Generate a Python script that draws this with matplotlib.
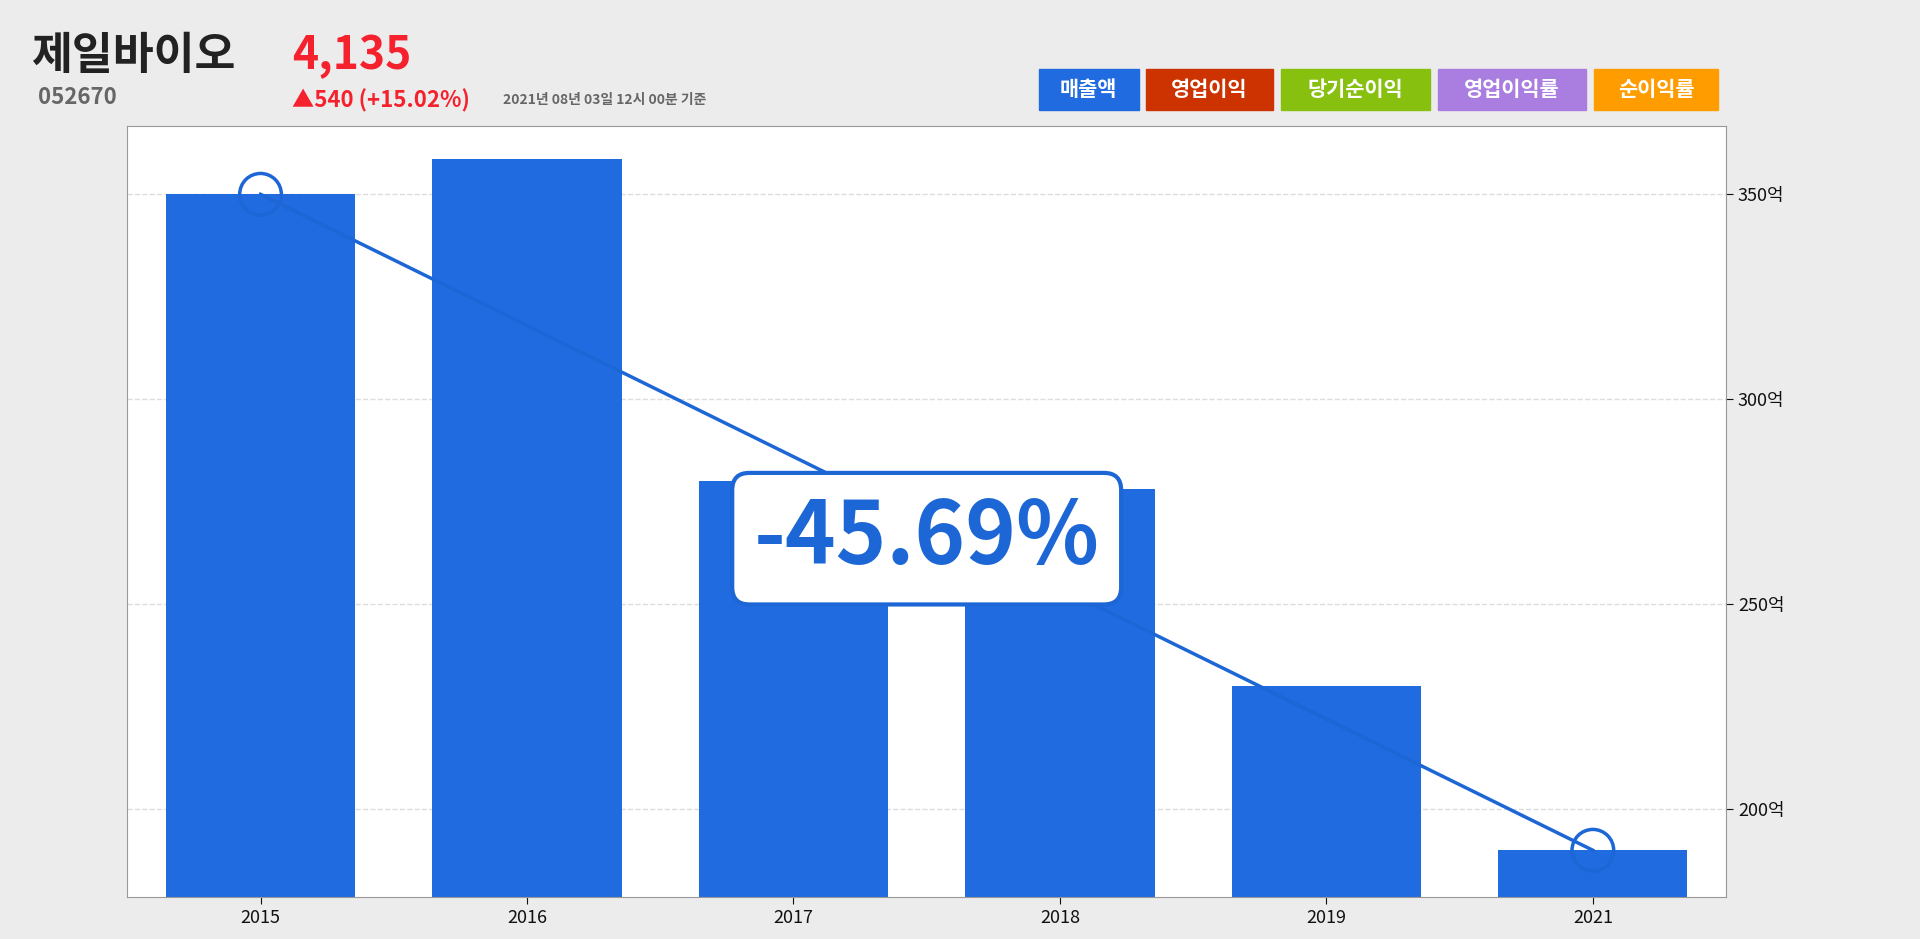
import matplotlib
matplotlib.use("Agg")
import matplotlib.pyplot as plt
from matplotlib.patches import FancyBboxPatch

plt.rcParams['font.family'] = ['Noto Sans CJK KR', 'DejaVu Sans']

years = ['2015', '2016', '2017', '2018', '2019', '2021']
sales = [350, 358.5, 280, 278, 230, 190]
yticks = [200, 250, 300, 350]
legend_items = ['매출액', '영업이익', '당기순이익', '영업이익률', '순이익률']
legend_colors = ['#206bdf', '#cc3300', '#88c010', '#aa7ee0', '#ff9d00']
change_label = '-45.69%'

fig = plt.figure(figsize=(19.2, 9.39), dpi=100, facecolor='#ececec')
ax = fig.add_axes([0.0663, 0.0443, 0.8327, 0.8217])
ax.set_facecolor('white')
x = list(range(len(years)))
ax.bar(x, sales, width=0.71, color='#206bdf', zorder=2)
ax.plot([x[0], x[-1]], [sales[0], sales[-1]], color='#1c66d6', lw=2.5, zorder=3)
ax.scatter([x[0], x[-1]], [sales[0], sales[-1]], s=900, facecolors='none',
           edgecolors='#1c66d6', linewidths=2.5, zorder=4)
ax.set_xlim(-0.5, 5.5)
ax.set_ylim(178.5, 366.7)
ax.set_xticks(x)
ax.set_xticklabels(years, fontsize=13)
ax.yaxis.tick_right()
ax.set_yticks(yticks)
ax.set_yticklabels([f'{v}억' for v in yticks], fontsize=13)
ax.grid(axis='y', ls='--', color='#dddddd', lw=1, zorder=0)
for s in ax.spines.values():
    s.set_color('#999999')
ax.tick_params(colors='#111111', length=5)
ax.text(2.5, 266, change_label, ha='center', va='center', fontsize=62, fontweight='bold',
        color='#1c66d6', zorder=6,
        bbox=dict(boxstyle='round,pad=0.25,rounding_size=0.2', fc='white', ec='#1c66d6', lw=3))

fig.text(0.016, 0.94, '제일바이오', fontsize=32, fontweight='bold', color='#222222', va='center')
fig.text(0.152, 0.94, '4,135', fontsize=32, fontweight='bold', color='#f5222d', va='center')
fig.text(0.02, 0.896, '052670', fontsize=16, fontweight='bold', color='#666666', va='center')
fig.text(0.152, 0.893, '▲540 (+15.02%)', fontsize=16, fontweight='bold', color='#f5222d', va='center')
fig.text(0.262, 0.893, '2021년 08년 03일 12시 00분 기준', fontsize=10, fontweight='bold', color='#666666', va='center')

lx = [0.541, 0.597, 0.667, 0.749, 0.830]
lw = [0.052, 0.066, 0.078, 0.077, 0.065]
for xx, ww, lab, c in zip(lx, lw, legend_items, legend_colors):
    fig.patches.append(plt.Rectangle((xx, 0.883), ww, 0.044, transform=fig.transFigure, color=c))
    fig.text(xx + ww / 2, 0.905, lab, fontsize=15, fontweight='bold', color='white', ha='center', va='center')

fig.savefig('out.png', dpi=100, facecolor=fig.get_facecolor())
